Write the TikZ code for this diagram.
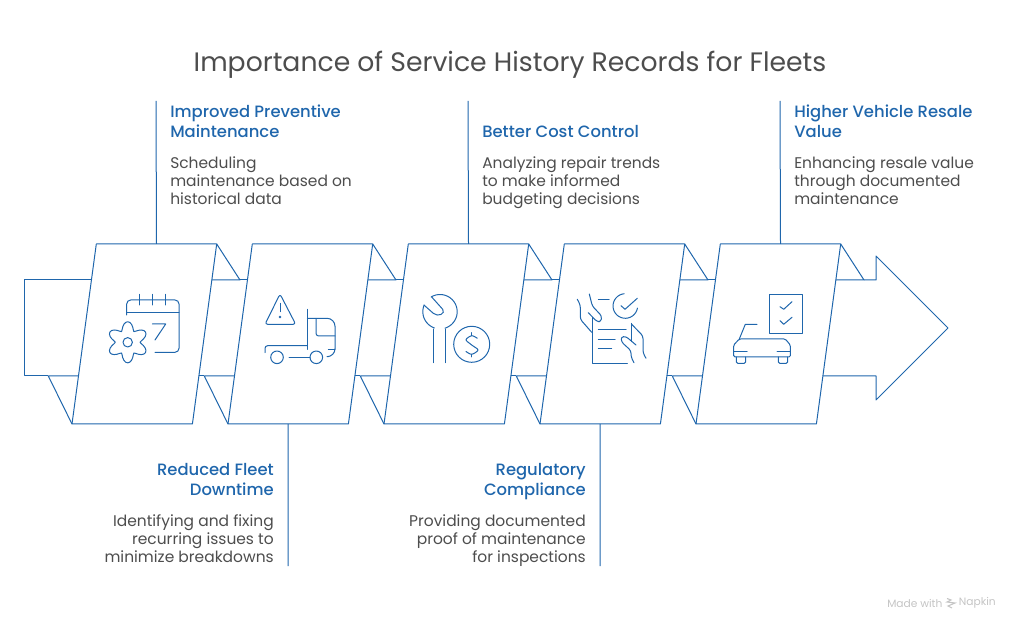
\documentclass[tikz,border=0pt]{standalone}
\usepackage{fontspec}
\setmainfont{Poppins}
\newfontfamily\headfont{Poppins Medium}
\usetikzlibrary{calc,positioning}
\definecolor{napblue}{HTML}{1F66AC}
\definecolor{naptext}{HTML}{4D4D4D}
\definecolor{napgrey}{HTML}{C4C4C4}
\tikzset{
	x=1pt*0.75,
	y=-1pt*0.75,
	outline/.style={draw=napblue, line width=0.75pt, line join=round},
	icon/.style={draw=napblue, line width=0.75pt, line cap=round, line join=round},
	headtxt/.style={
		inner sep=0pt,
		text=napblue,
		text depth=4pt,
		font=\headfont\fontsize{12.3pt}{15pt}\selectfont},
	bodytxt/.style={
		inner sep=0pt,
		text=naptext,
		font=\fontsize{11.6pt}{13.5pt}\selectfont},
}

\begin{document}
\begin{tikzpicture}
	\useasboundingbox (0,0) rectangle (1020,630);
	\node[text=naptext, font=\fontsize{20pt}{24pt}\selectfont, inner sep=0pt] (title) at (510,65) {Importance of Service History Records for Fleets};

	% panels
	\foreach \n [evaluate=\n as \xa using 72+156*(\n-1)] in {1,...,5} {
		\coordinate (bl\n) at (\xa,424);
		\coordinate (tl\n) at (\xa+24.3,244);
		\coordinate (tr\n) at (\xa+144.7,244);
		\coordinate (br\n) at (\xa+120.4,424);
		\coordinate (tc\n) at (\xa+84.5,244);
		\coordinate (bc\n) at (\xa+60.2,424);
		\draw[outline] (bl\n) -- (tl\n) -- (tr\n) -- (br\n) -- cycle;
		% fold above
		\draw[outline] (tr\n) -- (\xa+168,280) -- (\xa+139.8,280);
		% fold below
		\draw[outline] (bl\n) -- (\xa-23.7,376) -- (\xa+6.5,376);
	}
	\foreach \n [evaluate=\n as \xa using 72+156*(\n-1)] in {1,...,4} {
		\draw[outline] (\xa+168,280) -- (\xa+175.4,280);
		\draw[outline] (\xa+126.9,376) -- (\xa+132.3,376);
	}
	\draw[outline] (91.4,280) -- (24,280) -- (24,376) -- (48.3,376);
	\draw[outline] (864,280) -- (876,280) -- (876,256) -- (948,328) -- (876,400) -- (876,376) -- (822.9,376);

	% texts above
	\node[bodytxt, align=left, anchor=north west] (b1) at (170,156) {Scheduling\\maintenance based on\\historical data};
	\node[headtxt, align=left, above=10pt of b1.north west, anchor=south west] (h1) {Improved Preventive\\Maintenance};
	\node[bodytxt, align=left, anchor=north west] (b3) at (482,156) {Analyzing repair trends\\to make informed\\budgeting decisions};
	\node[headtxt, align=left, above=10pt of b3.north west, anchor=south west] (h3) {Better Cost Control};
	\node[bodytxt, align=left, anchor=north west] (b5) at (794,156) {Enhancing resale value\\through documented\\maintenance};
	\node[headtxt, align=left, above=10pt of b5.north west, anchor=south west] (h5) {Higher Vehicle Resale\\Value};

	% texts below
	\node[bodytxt, align=right, anchor=north east] (b2) at (274,514.5) {Identifying and fixing\\recurring issues to\\minimize breakdowns};
	\node[headtxt, align=right, above=10pt of b2.north east, anchor=south east] (h2) {Reduced Fleet\\Downtime};
	\node[bodytxt, align=right, anchor=north east] (b4) at (586,514.5) {Providing documented\\proof of maintenance\\for inspections};
	\node[headtxt, align=right, above=10pt of b4.north east, anchor=south east] (h4) {Regulatory\\Compliance};

	% connectors
	\coordinate (e1) at (156,101);
	\coordinate (e3) at (468,101);
	\coordinate (e5) at (780,101);
	\coordinate (e2) at (288,566);
	\coordinate (e4) at (600,566);
	\draw[outline] (tc1) -- (e1);
	\draw[outline] (tc3) -- (e3);
	\draw[outline] (tc5) -- (e5);
	\draw[outline] (bc2) -- (e2);
	\draw[outline] (bc4) -- (e4);

	% icon 1
	\draw[icon, rounded corners=3pt] (126.7,315) -- (126.7,300) -- (179,300) -- (179,352.3) -- (155,352.3);
	\draw[icon] (126.7,313) -- (179,313);
	\foreach \tx in {139.3,152.3,165.7} \draw[icon] (\tx,294.3) -- (\tx,305);
	\draw[icon] (152.3,324) -- (165.7,324) -- (155,340);
	\draw[icon] plot[smooth cycle, domain=0:354, samples=60] ({127.7+(12+8.5*pow(abs(0.5+0.5*cos(6*(\x-90)))+0.01,0.7))*cos(\x)},{342.3+(12+8.5*pow(abs(0.5+0.5*cos(6*(\x-90)))+0.01,0.7))*sin(\x)});
	\draw[icon] (127.7,342.3) circle (4.7);

	% icon 2
	\draw[icon, rounded corners=2pt] (280,294) -- (265,324.3) -- (295.7,324.3) -- cycle;
	\draw[icon] (280,303.3) -- (280,311.7);
	\fill[napblue] (280,317) circle (1.3);
	\draw[icon] (307.3,309.3) -- (307.3,349.3);
	\draw[icon, rounded corners=6pt] (307.3,318.3) -- (335,318.3) -- (335,356.7) -- (328.3,356.7);
	\draw[icon, rounded corners=2pt] (316,318.3) -- (316,336) -- (335,336);
	\draw[icon] (328.3,349.3) -- (335,349.3);
	\draw[icon, rounded corners=2pt] (265,352.7) -- (265,345.7) -- (307.3,345.7);
	\draw[icon] (277,357.3) circle (6.3);
	\draw[icon] (316.3,357.3) circle (6.3);
	\draw[icon] (289,357.3) -- (310,357.3);

	% icon 3
	\draw[icon] (433.6,362.7) -- (433.6,329);
	\draw[icon] (445.3,362.7) -- (445.3,329);
	\draw[icon] plot[smooth, domain=109:203, samples=12] ({440+17.2*cos(\x)},{311.7+17.2*sin(\x)});
	\draw[icon] plot[smooth, domain=239:433, samples=24] ({440+17.2*cos(\x)},{311.7+17.2*sin(\x)});
	\draw[icon] (423.9,305) -- (433.3,313.3) .. controls (438,317.5) and (446,313.5) .. (442.7,309.3) -- (431.7,297);
	\draw[icon] (471.7,344.3) circle (18);
	\draw[icon] plot[smooth] coordinates {(477.3,338.3) (471.7,335.7) (466,339.8) (471.7,345) (478,350) (471.7,354.3) (466,351.5)};
	\draw[icon] (471.7,332.7) -- (471.7,335.7);
	\draw[icon] (471.7,354.3) -- (471.7,356.9);

	% icon 4
	\draw[icon] (592.3,317.3) -- (592.3,363.3) -- (627.3,363.3);
	\draw[icon] (631.3,323.3) -- (631.3,341.7);
	\draw[icon] (598.3,300) -- (609,300);
	\draw[icon] (598.3,330) -- (626,330);
	\draw[icon] (598.3,339.3) -- (615,339.3);
	\draw[icon] (598.3,348.3) -- (611.7,348.3);
	\draw[icon] plot[smooth, domain=10:265, samples=24] ({625.3+12.3*cos(\x)},{306+12.3*sin(\x)});
	\draw[icon] (621,305.7) -- (625,309.3) -- (637.3,298.3);
	\draw[icon, rounded corners=2pt] (577.3,299.3) -- (580.3,305) -- (580.3,319.3) -- (591.7,332.3);
	\draw[icon, rounded corners=2pt] (589.3,294) -- (592.3,306) -- (601.7,316) -- (601,321.7) -- (597,321.7) -- (588.3,312.7);
	\draw[icon, rounded corners=2pt] (631.7,324.3) -- (643,336) -- (643,352.7) -- (646,358.3);
	\draw[icon, rounded corners=2pt] (636,345) -- (626,336.5) -- (621,336.8) -- (621.5,342) -- (631,350.7) -- (631,356.7) -- (634,362.7);

	% icon 5
	\draw[icon] (769.3,294.3) rectangle (802.7,333.3);
	\draw[icon] (780,306.7) -- (783.7,309.3) -- (792,301.7);
	\draw[icon] (780,320.7) -- (783.7,324.3) -- (792,317.3);
	\draw[icon] (757,324.3) -- (745.3,324.3) -- (739.3,339);
	\draw[icon, rounded corners=1pt] (733.7,345) -- (739.3,339) -- (785.3,339) -- (790.3,345) -- (790.3,357) -- (733.7,357) -- cycle;
	\draw[icon] (733.7,351.3) -- (747,351.3);
	\draw[icon] (777,351.3) -- (790.3,351.3);
	\draw[icon, rounded corners=1pt] (736.3,357) -- (736.3,363.3) -- (745.7,363.3) -- (745.7,357);
	\draw[icon, rounded corners=1pt] (778.3,357) -- (778.3,363.3) -- (787.7,363.3) -- (787.7,357);

	% watermark
	\node[text=napgrey, font=\fontsize{8pt}{10pt}\selectfont, inner sep=0pt, anchor=west] (made) at (887,603) {Made with};
	\node[text=napgrey, font=\fontsize{8pt}{10pt}\selectfont, inner sep=0pt, anchor=east] (napkin) at (996,603) {Napkin};
	\draw[napgrey, line width=0.8pt] (947,598.5) -- (951,600) -- (947,602) -- (955,603) -- (948,606) -- (952,608);
\end{tikzpicture}
\end{document}
